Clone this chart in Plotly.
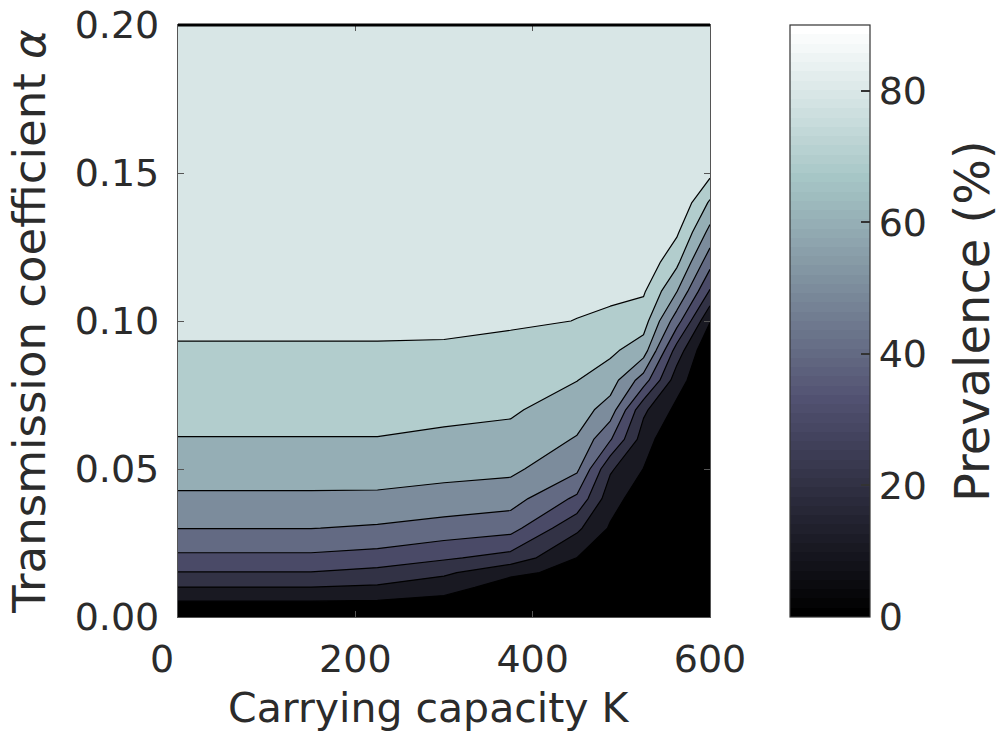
import numpy as np
import plotly.graph_objects as go

# Grid of the simulation: carrying capacity K (columns) and transmission coefficient alpha (rows)
K_values = [0, 75, 150, 225, 300, 375, 450, 487.5, 525, 562.5, 600]
alpha_values = [0.0, 0.005, 0.01, 0.015, 0.02, 0.03, 0.04, 0.05, 0.06, 0.07,
                0.08, 0.09, 0.10, 0.11, 0.12, 0.13, 0.14, 0.15, 0.20]

# Prevalence (%) at each grid point, one row per alpha value
prevalence = [
    [0.0, 0.0, 0.0, 0.0, 0.0, 0.0, 0.0, 0.0, 0.0, 0.0, 0.0],
    [9.3, 9.3, 9.3, 8.8, 6.8, 2.8, 2.5, 1.5, 0.0, 0.0, 0.0],
    [19.8, 19.8, 19.8, 18.6, 13.9, 5.5, 4.9, 3.0, 0.0, 0.0, 0.0],
    [29.6, 29.6, 29.6, 26.9, 21.9, 12.0, 7.4, 4.4, 0.0, 0.0, 0.0],
    [37.9, 37.9, 37.9, 36.0, 31.4, 26.4, 9.9, 5.9, 0.0, 0.0, 0.0],
    [50.2, 50.2, 50.2, 48.8, 46.1, 43.6, 22.0, 8.9, 0.0, 0.0, 0.0],
    [58.4, 58.4, 58.4, 58.2, 56.3, 54.3, 38.0, 14.0, 4.5, 0.0, 0.0],
    [64.4, 64.4, 64.4, 64.4, 63.2, 62.2, 51.9, 21.4, 9.8, 0.0, 0.0],
    [69.7, 69.7, 69.7, 69.7, 68.4, 67.1, 59.2, 40.9, 15.1, 0.2, 0.0],
    [72.9, 72.9, 72.9, 72.9, 72.2, 71.3, 64.8, 55.6, 22.0, 7.4, 0.0],
    [76.0, 76.0, 76.0, 76.0, 75.5, 74.5, 70.2, 64.8, 45.2, 14.5, 0.0],
    [79.0, 79.0, 79.0, 79.0, 78.8, 77.8, 74.9, 71.9, 64.8, 25.5, 0.0],
    [82.1, 82.1, 82.1, 82.1, 82.0, 81.0, 79.9, 79.0, 74.5, 44.4, 10.5],
    [82.9, 82.9, 82.9, 82.9, 82.8, 81.9, 81.0, 81.0, 81.2, 60.3, 28.9],
    [83.7, 83.7, 83.7, 83.7, 83.6, 82.8, 82.0, 81.8, 87.9, 72.5, 43.8],
    [84.4, 84.4, 84.4, 84.4, 84.4, 83.7, 83.0, 82.7, 89.0, 81.6, 57.0],
    [85.2, 85.2, 85.2, 85.2, 85.2, 84.6, 84.0, 83.7, 89.5, 89.5, 68.6],
    [86.0, 86.0, 86.0, 86.0, 86.0, 85.5, 85.0, 84.8, 90.0, 90.0, 82.4],
    [90.0, 90.0, 90.0, 90.0, 90.0, 90.0, 90.0, 90.0, 90.0, 90.0, 90.0],
]

contour_levels = [10, 20, 30, 40, 50, 60, 70, 80]
x_ticks = [0, 200, 400, 600]
y_ticks = [0.0, 0.05, 0.10, 0.15, 0.20]
cbar_ticks = [0, 20, 40, 60, 80]


def bone(v):
    r = np.interp(v, [0, 0.746032, 1], [0, 0.652778, 1])
    g = np.interp(v, [0, 0.365079, 0.746032, 1], [0, 0.319444, 0.777778, 1])
    b = np.interp(v, [0, 0.365079, 1], [0, 0.444444, 1])
    return "rgb(%d,%d,%d)" % (round(r * 255), round(g * 255), round(b * 255))


z = np.array(prevalence)
zmin, zmax = 0.0, float(z.max())
step = contour_levels[1] - contour_levels[0]
lo, hi = contour_levels[0], contour_levels[-1]

# Each filled band takes the colour of its lower level (bone map over the data range)
band_lows = [lo - step] + contour_levels
fill_scale = []
for L in band_lows:
    frac = (L - (lo - step)) / (hi - (lo - step))
    fill_scale.append([frac, bone((L - zmin) / (zmax - zmin))])

# 64-step bone map for the colour bar
n = 64
bar_scale = []
for i in range(n):
    c = bone(i / (n - 1))
    bar_scale.append([i / n, c])
    bar_scale.append([(i + 1) / n, c])

# x tick labels; the first one is nudged left of the axis corner
x_ticktext = [str(v) for v in x_ticks]
x_ticktext[0] = x_ticktext[0] + "\u00a0\u00a0\u2009"

text_col = "#2b2b2b"
font_family = "DejaVu Sans"

fig = go.Figure()
fig.add_trace(go.Contour(
    x=K_values, y=alpha_values, z=prevalence,
    autocontour=False,
    contours=dict(start=lo, end=hi, size=step, coloring="fill"),
    colorscale=fill_scale,
    showscale=False,
    line=dict(color="black", width=1.2, smoothing=0),
    hoverinfo="skip",
))

fig.add_trace(go.Scatter(
    x=[K_values[0], K_values[0]], y=[alpha_values[0], alpha_values[0]],
    mode="markers",
    marker=dict(size=0.1, opacity=0, color=[zmin, zmax], cmin=zmin, cmax=zmax,
                colorscale=bar_scale, showscale=True,
                colorbar=dict(
                    x=1.1504, xanchor="left", y=0.5, yanchor="middle",
                    len=1.0, lenmode="fraction", thickness=80,
                    xpad=0, ypad=0,
                    outlinecolor="#333333", outlinewidth=1.2,
                    tickvals=cbar_ticks, ticks="inside", ticklen=9,
                    tickcolor="#333333", tickwidth=1.5,
                    tickfont=dict(size=38, color=text_col, family=font_family),
                )),
    hoverinfo="skip", showlegend=False,
))

axis_common = dict(
    showline=True, linecolor="#555555", linewidth=1.2, mirror="ticks",
    ticks="inside", ticklen=6, tickcolor="#555555", tickwidth=1.2,
    showgrid=False, zeroline=False,
    tickfont=dict(size=38, color=text_col, family=font_family),
)

fig.update_layout(
    width=999, height=736,
    margin=dict(l=178, r=289, t=25, b=119, autoexpand=False),
    paper_bgcolor="white", plot_bgcolor="white",
    font=dict(family=font_family, color=text_col),
    showlegend=False,
    xaxis=dict(range=[0, 600], tickvals=x_ticks, ticktext=x_ticktext,
               ticklabelstandoff=8, **axis_common),
    yaxis=dict(range=[0, 0.2], tickvals=y_ticks, tickformat=".2f",
               ticklabelstandoff=10, **axis_common,
               title=dict(text="Transmission coefficient <i>α</i>", standoff=14,
                          font=dict(size=45, color=text_col, family=font_family))),
    shapes=[dict(type="line", xref="paper", yref="paper", x0=0, x1=1, y0=1, y1=1,
                 line=dict(color="black", width=3))],
    annotations=[
        dict(text="Carrying capacity K", xref="paper", yref="paper",
             x=0.4718, y=-0.1537, xanchor="center", yanchor="middle",
             showarrow=False, font=dict(size=41, color=text_col, family=font_family)),
        dict(text="Prevalence (%)", xref="paper", yref="paper",
             x=1.4925, y=0.5, xanchor="center", yanchor="middle", textangle=-90,
             showarrow=False, font=dict(size=48, color=text_col, family=font_family)),
    ],
)

fig.write_html("out.html")
